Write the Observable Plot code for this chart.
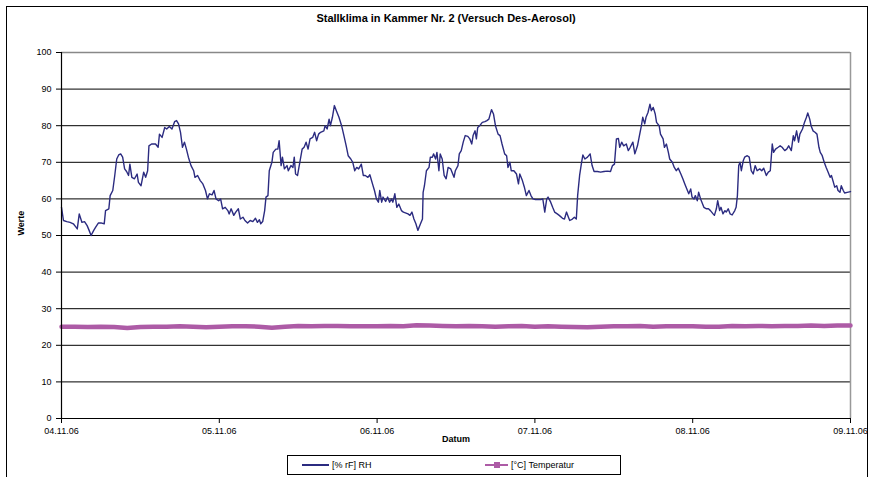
<!DOCTYPE html>
<html><head><meta charset="utf-8">
<script src="https://cdn.jsdelivr.net/npm/d3@7"></script>
<script src="https://cdn.jsdelivr.net/npm/@observablehq/plot@0.6"></script>
<style>
body{margin:0;background:#fff;font-family:"Liberation Sans",Arial,sans-serif;}
#wrap{position:relative;width:874px;height:477px;overflow:hidden;background:#fff;}
#chart{position:absolute;left:0;top:0;}
#border{position:absolute;left:6px;top:6px;width:862px;height:490px;border:1px solid #000;box-sizing:border-box;}
#title{position:absolute;top:12px;left:0;width:892px;text-align:center;font-weight:bold;font-size:11px;color:#000;}
#legend{position:absolute;left:287px;top:455px;width:334px;height:20px;border:1px solid #000;box-sizing:border-box;font-size:9px;background:#fff;}
#legend .item{position:absolute;top:0;height:18px;display:flex;align-items:center;}
</style>
</head><body>
<div id="wrap">
<div id="border"></div>
<div id="chart"></div>
<div id="title">Stallklima in Kammer Nr. 2 (Versuch Des-Aerosol)</div>
<div id="legend"></div>
</div>
<script>
// Time axis: hours since 04.11.06 00:00
const startDate = Date.UTC(2006, 10, 4);
const endDate = Date.UTC(2006, 10, 9);
const xTickDates = [0,1,2,3,4,5].map(d => new Date(startDate + d*864e5));
const yTicks = [0,10,20,30,40,50,60,70,80,90,100];
const seriesNames = ["[% rF] RH", "[°C] Temperatur"];

const rhHours = [0.0,0.3,0.8,1.3,1.8,2.2,2.4,2.7,3.1,3.5,3.9,4.2,4.5,4.9,5.2,5.6,6.1,6.5,6.7,7.2,7.4,7.8,8.1,8.4,8.7,9.0,9.3,9.6,9.9,10.2,10.4,10.7,11.1,11.5,11.7,12.1,12.5,12.8,13.1,13.3,13.7,14.3,14.7,14.9,15.3,15.7,16.0,16.4,16.8,17.2,17.5,17.8,18.1,18.4,18.7,19.0,19.3,19.7,20.1,20.3,20.7,21.1,21.5,21.9,22.2,22.5,22.9,23.2,23.5,23.9,24.2,24.5,24.9,25.3,25.5,25.8,26.2,26.5,26.9,27.2,27.6,27.9,28.3,28.7,29.1,29.5,29.8,30.1,30.3,30.6,30.9,31.1,31.4,31.6,32.0,32.2,32.6,32.9,33.1,33.4,33.6,33.9,34.3,34.5,34.9,35.2,35.4,35.6,35.9,36.3,36.6,36.9,37.2,37.5,37.8,38.2,38.5,38.8,39.1,39.4,39.9,40.1,
40.4,40.7,40.9,41.2,41.5,41.8,42.2,42.6,42.9,43.3,43.6,44.0,44.3,44.6,44.9,45.2,45.6,45.9,46.2,46.6,46.9,47.3,47.6,47.9,48.2,48.4,48.7,48.9,49.3,49.6,49.9,50.2,50.4,50.7,51.0,51.3,51.7,52.0,52.3,52.7,53.0,53.3,53.6,53.9,54.2,54.6,54.9,55.0,55.2,55.5,55.9,56.1,56.4,56.6,56.9,57.1,57.4,57.6,57.9,58.2,58.5,58.8,59.2,59.4,59.7,59.9,60.3,60.5,60.8,61.1,61.4,61.8,62.1,62.4,62.6,62.9,63.1,63.3,63.6,64.0,64.4,64.7,65.0,65.4,65.7,66.0,66.4,66.7,67.0,67.4,67.7,67.9,68.2,68.4,68.8,69.2,69.5,69.7,70.1,70.4,70.7,71.1,71.4,71.7,72.1,72.5,72.9,73.2,73.5,73.8,74.0,74.4,74.7,75.0,75.4,75.7,76.2,76.5,76.8,77.1,77.3,77.7,78.0,78.3,78.5,78.8,79.1,79.3,79.6,80.0,80.4,
80.7,81.0,81.5,82.0,82.5,83.0,83.5,83.8,84.1,84.4,84.7,84.9,85.2,85.5,85.9,86.2,86.5,86.9,87.2,87.6,87.9,88.2,88.4,88.7,88.9,89.2,89.5,89.7,90.0,90.3,90.5,90.9,91.1,91.5,91.7,92.0,92.3,92.5,92.9,93.2,93.5,93.8,94.2,94.5,94.8,95.2,95.4,95.7,95.9,96.2,96.4,96.7,96.9,97.2,97.4,97.7,98.1,98.4,98.7,99.1,99.3,99.6,99.8,100.1,100.3,100.6,100.9,101.1,101.4,101.7,102.0,102.4,102.6,102.8,103.0,103.2,103.4,103.7,103.9,104.3,104.6,104.9,105.2,105.5,105.8,106.2,106.5,106.8,107.2,107.5,107.8,108.1,108.3,108.6,109.0,109.3,109.6,110.0,110.3,110.6,111.0,111.3,111.5,111.8,112.1,112.3,112.7,113.0,113.3,113.5,113.8,114.0,114.3,114.6,114.9,115.2,115.4,115.7,116.0,116.3,116.6,116.9,117.1,117.4,117.6,117.9,118.1,118.4,118.6,118.9,119.1,119.5,120.0];
const rhValues = [57.7,54.1,53.8,53.6,53.2,52.3,51.8,55.9,53.6,53.8,52.7,51.4,50.0,51.4,52.3,53.4,53.4,53.2,56.8,57.3,60.9,62.3,66.4,70.9,72.0,72.3,71.4,68.2,67.5,66.4,69.5,65.9,65.5,66.8,64.5,63.6,67.3,65.9,67.7,74.5,75.0,75.0,74.1,77.7,76.8,79.5,79.1,79.8,79.1,81.1,81.4,80.5,78.2,74.1,75.5,73.6,71.4,69.1,67.7,65.9,66.4,65.0,64.1,62.3,60.0,61.4,61.1,62.3,60.0,59.5,60.0,57.3,57.7,56.8,55.9,57.3,55.5,56.4,57.3,54.5,55.0,54.1,53.4,54.1,53.8,54.7,53.6,54.3,53.2,53.8,56.8,60.5,60.9,67.7,70.0,72.7,73.6,73.6,75.9,69.1,71.4,68.2,69.1,67.7,69.1,68.6,71.4,66.8,66.4,70.5,73.6,74.1,75.5,73.6,76.4,76.8,78.2,75.9,77.7,78.2,78.6,80.0,
79.1,81.8,80.0,82.3,85.5,84.1,82.3,80.0,77.7,74.5,71.8,70.9,70.0,67.7,68.6,68.2,69.5,66.4,66.4,65.9,66.6,64.1,62.3,60.0,59.1,62.3,59.1,60.5,59.3,60.5,59.1,60.0,59.1,61.4,57.7,58.6,56.8,56.4,56.2,55.9,55.5,56.4,54.5,53.2,51.4,53.2,54.5,61.8,63.6,67.7,68.6,71.4,71.4,72.3,70.9,72.7,67.7,72.3,70.9,66.4,65.5,68.6,68.2,67.3,65.9,67.7,69.1,72.3,73.2,75.5,77.3,77.1,76.4,75.0,77.3,78.6,76.4,79.5,80.0,80.9,81.1,81.4,81.8,84.4,83.2,80.0,77.7,77.3,75.0,72.3,71.8,68.6,70.0,67.7,67.7,66.8,64.1,66.8,65.0,63.2,60.9,62.3,60.9,60.0,59.8,59.8,59.8,60.0,56.4,60.0,60.5,59.1,57.7,56.4,55.9,55.5,54.7,54.5,56.4,55.0,54.1,54.5,55.0,54.5,60.9,66.4,70.0,72.0,70.9,71.4,72.3,
69.1,67.5,67.5,67.3,67.5,67.6,67.5,69.1,69.5,76.4,76.5,74.1,75.5,74.5,75.0,73.2,74.1,75.5,72.3,74.5,77.3,80.0,82.3,80.5,82.3,83.6,85.9,84.1,85.0,83.2,80.9,80.0,77.7,76.4,74.1,75.0,72.7,70.9,70.0,68.6,67.7,68.4,66.8,65.5,64.1,62.3,61.4,62.7,60.5,60.0,60.9,59.5,61.8,60.0,59.1,57.7,57.3,57.3,56.8,55.9,55.5,57.3,59.5,56.8,57.7,55.9,56.8,56.4,57.3,55.9,55.6,56.8,57.7,60.9,69.1,70.0,67.7,70.5,71.4,71.8,71.4,67.7,66.8,69.1,67.7,68.2,67.7,68.4,66.4,67.3,67.7,75.0,72.7,73.6,74.1,74.5,74.1,73.2,73.6,74.5,73.2,77.3,75.9,78.6,75.5,77.7,79.1,80.9,82.3,83.5,81.8,80.0,78.6,78.2,77.7,74.1,72.7,71.8,70.0,68.6,67.3,65.9,66.4,64.5,63.2,63.6,62.3,61.8,63.6,62.3,61.6,61.8,62.0];

const tempHours = [0,2,4,6,8,10,12,14,16,18,20,22,24,26,28,30,32,34,36,38,40,42,44,46,48,50,52,54,56,58,60,62,64,66,68,70,72,74,76,78,80,82,84,86,88,90,92,94,96,98,100,102,104,106,108,110,112,114,116,118,120];
const tempValues = [25.1,25.1,25.0,25.1,25.0,24.7,25.0,25.1,25.1,25.2,25.1,24.9,25.1,25.2,25.2,25.1,24.8,25.1,25.3,25.2,25.3,25.3,25.2,25.2,25.2,25.3,25.2,25.5,25.4,25.3,25.2,25.3,25.2,25.1,25.2,25.3,25.1,25.2,25.1,25.0,24.9,25.1,25.2,25.2,25.3,25.1,25.2,25.2,25.2,25.1,25.1,25.3,25.2,25.3,25.2,25.3,25.3,25.4,25.3,25.4,25.4];

const toDate = h => new Date(startDate + h * 3600e3);
const rhData = rhHours.map((h, i) => ({date: toDate(h), value: rhValues[i]}));
const tempData = tempHours.map((h, i) => ({date: toDate(h), value: tempValues[i]}));

const rhColor = "#2b2b80";
const tColor = "#ad5ba6";

const plot = Plot.plot({
  width: 874,
  height: 477,
  marginLeft: 61,
  marginRight: 24,
  marginTop: 52,
  marginBottom: 59,
  style: {fontFamily: '"Liberation Sans", Arial, sans-serif', fontSize: "9px", background: "transparent", color: "#000"},
  x: {type: "utc", domain: [new Date(startDate), new Date(endDate)]},
  y: {domain: [0, 100]},
  marks: [
    Plot.ruleY(yTicks.filter(d => d > 0 && d < 100), {stroke: "#000", strokeWidth: 1}),
    Plot.ruleY([100], {stroke: "#888", strokeWidth: 1.5}),
    Plot.ruleX([new Date(endDate)], {stroke: "#999", strokeWidth: 1.5}),
    Plot.line(tempData, {x: "date", y: "value", stroke: tColor, strokeWidth: 4.5, curve: "linear"}),
    Plot.line(rhData, {x: "date", y: "value", stroke: rhColor, strokeWidth: 1.4}),
    Plot.ruleY([0], {stroke: "#000", strokeWidth: 1.2}),
    Plot.ruleX([new Date(startDate)], {stroke: "#000", strokeWidth: 1.2}),
    Plot.axisY({ticks: yTicks, tickSize: 5, tickPadding: 5, label: null, stroke: "#000"}),
    Plot.axisX({ticks: xTickDates, tickSize: 5, tickPadding: 4, label: null, tickFormat: d3.utcFormat("%d.%m.%y"), stroke: "#000"}),
    Plot.text(["Werte"], {frameAnchor: "left", dx: -40, rotate: -90, fontWeight: "bold", fontSize: 9}),
    Plot.text(["Datum"], {frameAnchor: "bottom", dy: 23, fontWeight: "bold", fontSize: 9})
  ]
});
document.getElementById("chart").appendChild(plot);

// Legend
const legend = document.getElementById("legend");
legend.innerHTML = `
<div class="item" style="left:14px"><svg width="27" height="10"><line x1="0" y1="5" x2="27" y2="5" stroke="${rhColor}" stroke-width="2"/></svg><span style="margin-left:3px">${seriesNames[0]}</span></div>
<div class="item" style="left:197px"><svg width="23" height="10"><line x1="0" y1="5" x2="23" y2="5" stroke="${tColor}" stroke-width="2"/><rect x="9" y="2" width="6" height="6" fill="${tColor}"/></svg><span style="margin-left:3px">${seriesNames[1]}</span></div>`;
</script>
</body></html>
